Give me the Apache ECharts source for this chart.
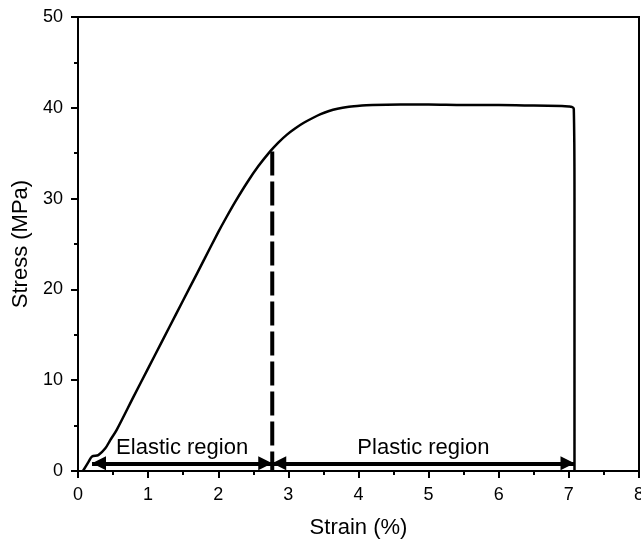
<!DOCTYPE html>
<html>
<head>
<meta charset="utf-8">
<script src="https://cdn.jsdelivr.net/npm/echarts@6/dist/echarts.min.js"></script>
<style>
  html, body { margin: 0; padding: 0; background: #fff; }
  #main { width: 641px; height: 546px; }
</style>
</head>
<body>
<div id="main"></div>
<script>
// stress-strain curve
var strain = [0.07, 0.15, 0.2, 0.29, 0.39, 0.46, 0.55, 0.8, 1.0, 1.2, 1.4, 1.6, 1.8, 2.0, 2.12, 2.25, 2.41, 2.57, 2.74, 2.86, 2.98, 3.1, 3.22, 3.34, 3.46, 3.58, 3.7, 3.84, 3.98, 4.2, 4.6, 5.0, 5.5, 6.0, 6.5, 6.9, 7.0, 7.04, 7.07, 7.08, 7.08];
var stress = [0, 1.0, 1.6, 1.75, 2.5, 3.4, 4.5, 8.3, 11.3, 14.3, 17.3, 20.3, 23.3, 26.3, 28.0, 29.75, 31.75, 33.55, 35.2, 36.2, 37.05, 37.75, 38.35, 38.85, 39.3, 39.65, 39.9, 40.1, 40.2, 40.3, 40.35, 40.35, 40.3, 40.3, 40.25, 40.2, 40.15, 40.1, 39.9, 30, 0];

// yield point marked by the dashed line
var yieldStrain = 2.77;
var yieldStress = 35.2;

// arrows along the bottom
var arrowStress = 0.85;
var elasticRange = [0.2, 2.77];
var plasticRange = [2.77, 7.08];
var regionNames = ['Elastic region', 'Plastic region'];

var xTicks = [0, 8, 1];
var yTicks = [0, 50, 10];

var font = "'Liberation Sans', Arial, sans-serif";

var chart = echarts.init(document.getElementById('main'));

var curve = strain.map(function (x, i) { return [x, stress[i]]; });

var option = {
  animation: false,
  grid: {
    left: 78, right: 2, top: 17, bottom: 75,
    containLabel: false, outerBoundsMode: 'none',
    show: true, borderColor: '#000', borderWidth: 2, backgroundColor: 'transparent'
  },
  xAxis: {
    type: 'value',
    min: xTicks[0], max: xTicks[1], interval: xTicks[2],
    name: 'Strain (%)', nameLocation: 'middle', nameGap: 46,
    nameTextStyle: { fontSize: 22, color: '#000', fontFamily: font },
    axisLine: { show: true, lineStyle: { color: '#000', width: 2 } },
    axisTick: { show: true, length: 7, lineStyle: { color: '#000', width: 2 } },
    minorTick: { show: true, splitNumber: 2, length: 4, lineStyle: { color: '#000', width: 2 } },
    splitLine: { show: false },
    axisLabel: { fontSize: 18, color: '#000', fontFamily: font, margin: 15, showMaxLabel: true, hideOverlap: false }
  },
  yAxis: {
    type: 'value',
    min: yTicks[0], max: yTicks[1], interval: yTicks[2],
    name: 'Stress (MPa)', nameLocation: 'middle', nameGap: 41,
    nameTextStyle: { fontSize: 22, color: '#000', fontFamily: font },
    axisLine: { show: true, lineStyle: { color: '#000', width: 2 } },
    axisTick: { show: true, length: 7, lineStyle: { color: '#000', width: 2 } },
    minorTick: { show: true, splitNumber: 2, length: 4, lineStyle: { color: '#000', width: 2 } },
    splitLine: { show: false },
    axisLabel: { fontSize: 18, color: '#000', fontFamily: font, margin: 15 }
  },
  series: [
    {
      type: 'line',
      data: curve,
      showSymbol: false,
      smooth: 0.3,
      lineStyle: { color: '#000', width: 2.5 },
      silent: true
    },
    {
      type: 'line',
      data: [[yieldStrain, yieldStress], [yieldStrain, 0]],
      showSymbol: false,
      lineStyle: { color: '#000', width: 4, type: [24, 6] },
      silent: true
    },
    {
      type: 'line',
      data: [],
      silent: true,
      markLine: {
        silent: true,
        symbol: ['triangle', 'triangle'],
        symbolSize: [14, 14],
        symbolOffset: [[0, 7], [0, 7]],
        lineStyle: { color: '#000', width: 4, type: 'solid' },
        label: {
          show: true, position: 'middle', formatter: '{b}', distance: 4,
          fontSize: 22, color: '#000', fontFamily: font
        },
        emphasis: { disabled: true },
        data: [
          [{ coord: [elasticRange[0], arrowStress], name: regionNames[0] }, { coord: [elasticRange[1], arrowStress] }],
          [{ coord: [plasticRange[0], arrowStress], name: regionNames[1] }, { coord: [plasticRange[1], arrowStress] }]
        ]
      }
    }
  ]
};

chart.setOption(option);
</script>
</body>
</html>
